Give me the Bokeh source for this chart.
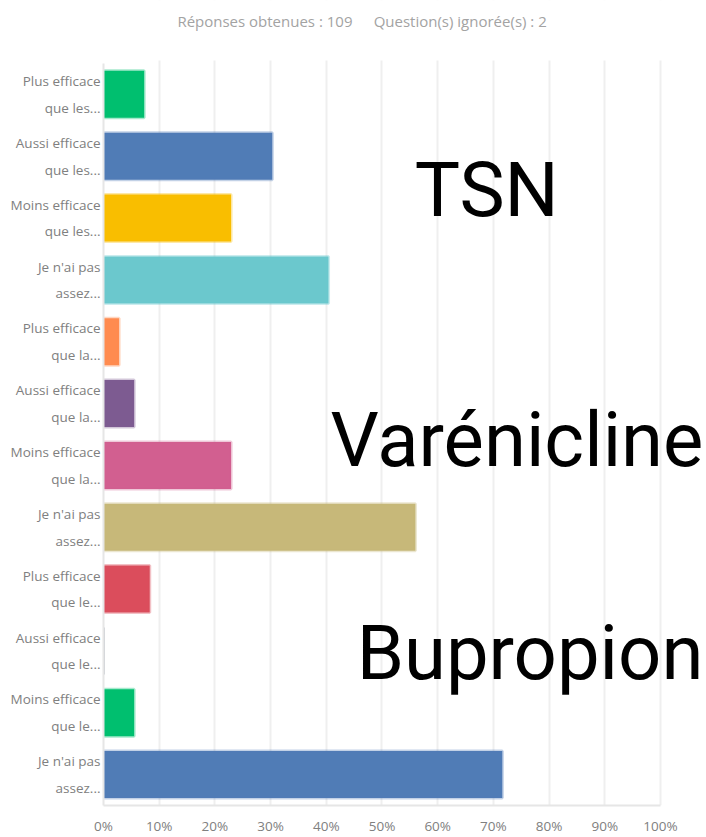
from bokeh.plotting import figure
from bokeh.models import Range1d, Label, FixedTicker, ColumnDataSource, BoxAnnotation
from bokeh.embed import file_html
from bokeh.resources import INLINE

# ---- data ----
row_labels = [
    "Plus efficace\nque les...", "Aussi efficace\nque les...", "Moins efficace\nque les...", "Je n'ai pas\nassez...",
    "Plus efficace\nque la...", "Aussi efficace\nque la...", "Moins efficace\nque la...", "Je n'ai pas\nassez...",
    "Plus efficace\nque le...", "Aussi efficace\nque le...", "Moins efficace\nque le...", "Je n'ai pas\nassez...",
]
values = [7.3, 30.3, 22.9, 40.4, 2.8, 5.5, 22.9, 56.0, 8.3, 0.0, 5.5, 71.6]
colors = ["#00BF6F", "#507CB6", "#F9BE00", "#6BC8CD",
          "#FF8B4F", "#7D5B91", "#D25F90", "#C7B879",
          "#DB4D5C", "#5F6B78", "#00BF6F", "#507CB6"]
x_ticks = [0, 10, 20, 30, 40, 50, 60, 70, 80, 90, 100]
x_tick_labels = ["0%", "10%", "20%", "30%", "40%", "50%", "60%", "70%", "80%", "90%", "100%"]
group_titles = ["TSN", "Varénicline", "Bupropion"]
subtitle_parts = ["Réponses obtenues : 109", "Question(s) ignorée(s) : 2"]

# row positions (top row first)
row_pos = [i + 0.5 for i in range(len(row_labels))]
src = ColumnDataSource(dict(y=row_pos, value=values, color=colors))

p = figure(width=706, height=837,
           y_range=Range1d(12.0, -1.018),
           x_range=Range1d(0, 107.9),
           output_backend="svg", toolbar_location=None,
           min_border_left=103, min_border_right=2,
           min_border_top=0, min_border_bottom=31)

p.hbar(y="y", left=0, right="value", height=0.76, source=src,
       fill_color="color", line_color="color", line_alpha=0.35, line_width=3)

p.outline_line_color = None
p.ygrid.grid_line_color = None
p.xgrid.grid_line_color = "#efefef"
p.xgrid.grid_line_width = 2

# keep the header strip clean of grid lines
p.add_layout(BoxAnnotation(left=-20, right=130, top=-1.2, bottom=-0.048,
                           fill_color="white", fill_alpha=1.0, line_color=None))

xa = p.xaxis[0]
xa.ticker = FixedTicker(ticks=x_ticks)
xa.major_label_overrides = {t: l for t, l in zip(x_ticks, x_tick_labels)}
xa.bounds = (0, 100)
xa.major_tick_line_color = None
xa.minor_tick_line_color = None
xa.axis_line_color = "#e6e6e6"
xa.axis_line_width = 2
xa.major_label_standoff = 5
xa.major_label_text_font = "Open Sans"
xa.major_label_text_font_size = "13.5px"
xa.major_label_text_color = "#808080"

ya = p.yaxis[0]
ya.ticker = FixedTicker(ticks=row_pos)
ya.major_label_overrides = {t: l for t, l in zip(row_pos, row_labels)}
ya.bounds = (0, len(row_labels))
ya.major_tick_line_color = None
ya.minor_tick_line_color = None
ya.axis_line_color = "#e6e6e6"
ya.axis_line_width = 2
ya.major_label_standoff = -3
ya.major_label_text_font = "Open Sans"
ya.major_label_text_font_size = "13.5px"
ya.major_label_text_color = "#808080"
ya.major_label_text_line_height = 1.48

# subtitle
sub = dict(text_font="Open Sans", text_font_size="15px", text_color="#a3a3a3", text_baseline="middle")
p.add_layout(Label(x=44.7, y=-0.679, text=subtitle_parts[0], text_align="right", **sub))
p.add_layout(Label(x=48.5, y=-0.679, text=subtitle_parts[1], text_align="left", **sub))

# big group titles
big = dict(text_font="Roboto", text_font_size="76px", text_color="black", text_baseline="middle")
p.add_layout(Label(x=68.8, y=2.04, text=group_titles[0], text_align="center", **big))
p.add_layout(Label(x=107.7, y=6.09, text=group_titles[1], text_align="right", **big))
p.add_layout(Label(x=107.7, y=9.53, text=group_titles[2], text_align="right", **big))

open("out.html", "w").write(file_html(p, INLINE))
